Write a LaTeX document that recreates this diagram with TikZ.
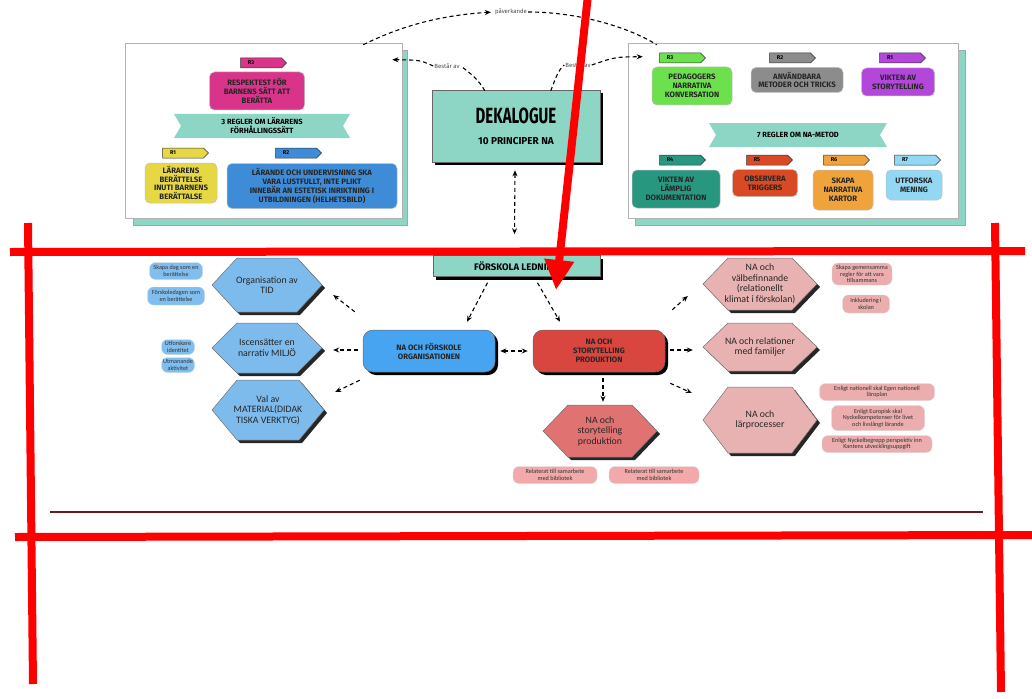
\documentclass[tikz,border=0pt]{standalone}
\usepackage{fontspec}
\setmainfont{Fira Sans}
\newfontfamily\calib{Carlito}
\usetikzlibrary{arrows.meta,calc,shapes.symbols,shadows}
\definecolor{tealA}{HTML}{8DD5C4}
\definecolor{cPink}{HTML}{D9348A}
\definecolor{cYel}{HTML}{E6D845}
\definecolor{cBlue}{HTML}{3E8CD8}
\definecolor{cGreen}{HTML}{6DE04E}
\definecolor{cGray}{HTML}{8C8C8C}
\definecolor{cPurp}{HTML}{B347DB}
\definecolor{cDTeal}{HTML}{27977F}
\definecolor{cRedO}{HTML}{D94A24}
\definecolor{cOrange}{HTML}{F1A33B}
\definecolor{cLBlue}{HTML}{93D8F2}
\definecolor{cOrg}{HTML}{46A4F0}
\definecolor{cRedBox}{HTML}{D9453F}
\definecolor{cSalmon}{HTML}{E07272}
\definecolor{cHexL}{HTML}{7DBBEC}
\definecolor{cPillL}{HTML}{7FBEEE}
\definecolor{cHexR}{HTML}{E8B2B2}
\definecolor{cPillR}{HTML}{EBADAD}
\definecolor{cPillB}{HTML}{F2A9A9}
\definecolor{dkred}{HTML}{6E1A1A}
\definecolor{markred}{HTML}{FF0000}

% hexagon: name, x, y, half width, half height, colour, text
\newcommand\hexa[7]{%
  \fill[black!85] (#2-#4+3,#3+3) -- (#2-#4+25+3,#3-#5+3) -- (#2+#4-25+3,#3-#5+3) -- (#2+#4+3,#3+3) -- (#2+#4-25+3,#3+#5+3) -- (#2-#4+25+3,#3+#5+3) -- cycle;
  \filldraw[fill=#6, draw=black!55, line width=0.5pt] (#2-#4,#3) -- (#2-#4+25,#3-#5) -- (#2+#4-25,#3-#5) -- (#2+#4,#3) -- (#2+#4-25,#3+#5) -- (#2-#4+25,#3+#5) -- cycle;
  \node[hextext, minimum width={2*#4}, minimum height={2*#5}] (#1) at (#2,#3) {#7};
}
% banner: name, x, y, half width, half height, text
\newcommand\bannerbox[6]{%
  \fill[tealA] (#2-#4,#3-#5) -- (#2+#4,#3-#5) -- (#2+#4-7,#3) -- (#2+#4,#3+#5) -- (#2-#4,#3+#5) -- (#2-#4+7,#3) -- cycle;
  \node[bantext] (#1) at (#2,#3) {#6};
}

\begin{document}
\begin{tikzpicture}[x=1pt,y=-1pt,
  frame/.style={draw=black!30, fill=white, line width=0.6pt, inner sep=0pt},
  rtag/.style={signal, signal to=east, minimum width=46, minimum height=10, inner sep=0.5pt, draw=black!80, line width=0.5pt, text=black, font=\bfseries\fontsize{5.5}{6}\selectfont},
  rbox/.style={rounded corners=5pt, draw=black!25, line width=0.5pt, align=center, inner sep=2pt, text=black!85, font=\bfseries\fontsize{7.8}{8.8}\selectfont},
  bantext/.style={align=center, inner sep=0pt, font=\bfseries\fontsize{7.5}{9}\selectfont},
  shbox/.style={draw=black!60, line width=0.5pt, drop shadow={shadow xshift=3pt, shadow yshift=-3pt, opacity=1, fill=black}},
  hextext/.style={align=center, inner sep=0pt, text=black!85, font=\calib\fontsize{9.8}{10.5}\selectfont},
  pill/.style={rounded corners=6pt, align=center, inner sep=1.5pt, text=black!80, font=\calib\fontsize{6.2}{6.6}\selectfont, draw=black!15, line width=0.3pt},
  dline/.style={dash pattern=on 4pt off 3pt, line width=1.1pt},
  da/.style={dline, -{Stealth[length=6pt,width=5pt]}},
  dda/.style={dline, {Stealth[length=6pt,width=5pt]}-{Stealth[length=6pt,width=5pt]}},
  lbl/.style={font=\fontsize{6}{7}\selectfont, text=black!70, inner sep=1pt},
  redmark/.style={markred, line width=8pt}
]
\useasboundingbox (0,0) rectangle (1032,698);

% ---------- top left frame ----------
\filldraw[fill=tealA, draw=black!35, line width=0.5pt] (133,50) rectangle (407,225);
\node[frame, minimum width=277, minimum height=175] (tl) at (263.5,130.5) {};
\node[rtag, fill=cPink] (t3) at (261,63) {R3\hspace*{20pt}};
\node[rbox, fill=cPink, minimum width=95, minimum height=38] (b3) at (257,91) {RESPEKTEST FÖR\\BARNENS SÄTT ATT\\BERÄTTA};
\bannerbox{ban1}{262}{126}{88}{12}{3 REGLER OM LÄRARENS\\FÖRHÅLLINGSSÄTT}
\node[rtag, fill=cYel] (t1) at (183,153) {R1\hspace*{20pt}};
\node[rbox, fill=cYel, minimum width=72, minimum height=40] (b1) at (181,183) {LÄRARENS\\BERÄTTELSE\\INUTI BARNENS\\BERÄTTALSE};
\node[rtag, fill=cBlue] (t2) at (296,153) {R2\hspace*{20pt}};
\node[rbox, fill=cBlue, minimum width=170, minimum height=45] (b2) at (312,186) {LÄRANDE OCH UNDERVISNING SKA\\VARA LUSTFULLT, INTE PLIKT\\INNEBÄR AN ESTETISK INRIKTNING I\\UTBILDNINGEN (HELHETSBILD)};

% ---------- top right frame ----------
\filldraw[fill=tealA, draw=black!35, line width=0.5pt] (635,50) rectangle (965,225);
\node[frame, minimum width=330, minimum height=175] (tr) at (793,130.5) {};
\node[rtag, fill=cGreen] (u3) at (680,58) {R3\hspace*{20pt}};
\node[rbox, fill=cGreen, minimum width=80, minimum height=38] (c3) at (692,86) {PEDAGOGERS\\NARRATIVA\\KONVERSATION};
\node[rtag, fill=cGray] (u2) at (790,58) {R2\hspace*{20pt}};
\node[rbox, fill=cGray, minimum width=92, minimum height=25] (c2) at (797,80) {ANVÄNDBARA\\METODER OCH TRICKS};
\node[rtag, fill=cPurp] (u1) at (900,58) {R1\hspace*{20pt}};
\node[rbox, fill=cPurp, minimum width=73, minimum height=28] (c1) at (898,82) {VIKTEN AV\\STORYTELLING};
\bannerbox{ban2}{798}{135}{89}{12}{7 REGLER OM NA-METOD}
\node[rtag, fill=cDTeal] (u4) at (680,160) {R4\hspace*{20pt}};
\node[rbox, fill=cDTeal, minimum width=88, minimum height=38] (c4) at (676,189) {VIKTEN AV\\LÄMPLIG\\DOKUMENTATION};
\node[rtag, fill=cRedO] (u5) at (767,160) {R5\hspace*{20pt}};
\node[rbox, fill=cRedO, minimum width=65, minimum height=27] (c5) at (765,183) {OBSERVERA\\TRIGGERS};
\node[rtag, fill=cOrange] (u6) at (844,160) {R6\hspace*{20pt}};
\node[rbox, fill=cOrange, minimum width=60, minimum height=40] (c6) at (843,190) {SKAPA\\NARRATIVA\\KARTOR};
\node[rtag, fill=cLBlue] (u7) at (915,160) {R7\hspace*{20pt}};
\node[rbox, fill=cLBlue, minimum width=56, minimum height=30] (c7) at (914,185) {UTFORSKA\\MENING};

% ---------- dekalogue ----------
\node[shbox, fill=tealA, minimum width=168, minimum height=72, align=center, inner sep=0pt] (dek) at (516,126)
  {\scalebox{0.68}[1]{\fontsize{22}{24}\selectfont\bfseries DEKALOGUE}\\[9pt]{\bfseries\fontsize{10}{12}\selectfont 10 PRINCIPER NA}};
\node[lbl] (pav) at (511,12) {påverkande};
\node[lbl] (bestL) at (447,66) {Består av};
\node[lbl] (bestR) at (578,65) {Består av};
\draw[da, shorten >=3pt] ($(tl.north east)+(-39,2)$) .. controls (405,24) and (445,15) .. (pav.west);
\draw[dline] (pav.east) .. controls (580,12) and (630,28) .. ($(tr.north west)+(29,2)$);
\draw[dline] ($(dek.north west)+(53,1)$) .. controls (479,80) and (470,73) .. (bestL.east);
\draw[da] (bestL.west) .. controls (420,60) .. ($(tl.north east)+(-10,17)$);
\draw[dline] ($(dek.north west)+(119,1)$) .. controls (555,80) and (558,70) .. (bestR.west);
\draw[da] (bestR.east) .. controls (615,57) .. ($(tr.north west)+(15,14)$);

% ---------- förskola ledning ----------
\node[shbox, fill=tealA, minimum width=167, minimum height=21, inner sep=0pt, font=\bfseries\fontsize{9.5}{11}\selectfont] (led) at (516.5,266) {FÖRSKOLA LEDNING};
\draw[dda] ($(dek.south)+(-1,8)$) -- ($(led.north)+(-2,-21)$);

\node[shbox, fill=cOrg, rounded corners=10pt, minimum width=132, minimum height=42, align=center, inner sep=0pt, text=black!85, font=\bfseries\fontsize{7.8}{9}\selectfont] (org) at (429,351) {NA OCH FÖRSKOLE\\ORGANISATIONEN};
\node[shbox, fill=cRedBox, rounded corners=10pt, minimum width=132, minimum height=42, align=center, inner sep=0pt, text=black!85, font=\bfseries\fontsize{7.8}{9}\selectfont] (prod) at (599,351) {NA OCH\\STORYTELLING\\PRODUKTION};
\draw[da] ($(led.south)+(-29,6)$) -- ($(org.north)+(38,-8)$);
\draw[da] ($(led.south)+(21,6)$) -- ($(prod.north)+(-39,-8)$);
\draw[dda] ($(org.east)+(5,0)$) -- ($(prod.west)+(-5,0)$);

% ---------- hexagons ----------
\hexa{hl1}{267}{285}{55}{27}{cHexL}{Organisation av\\TID}
\hexa{hl2}{267}{348}{55}{25}{cHexL}{Iscensätter en\\narrativ MILJÖ}
\hexa{hl3}{268}{410}{56}{30}{cHexL}{Val av\\MATERIAL(DIDAK\\TISKA VERKTYG)}
\hexa{hp}{600}{431}{57}{26}{cSalmon}{NA och\\storytelling\\produktion}
\hexa{hr1}{760}{284}{57}{26}{cHexR}{NA och\\välbefinnande\\(relationellt\\klimat i förskolan)}
\hexa{hr2}{760}{347}{57}{24}{cHexR}{NA och relationer\\med familjer}
\hexa{hr3}{760}{420}{57}{33}{cHexR}{NA och\\lärprocesser}

\draw[da] ($(org.north west)+(-8,-18)$) -- ($(hl1.east)+(11,10)$);
\draw[da] ($(org.west)+(-5,-1)$) -- ($(hl2.east)+(11,2)$);
\draw[da] ($(org.south west)+(-3,8)$) -- ($(hl3.east)+(11,-18)$);
\draw[da] ($(prod.south)+(4,6)$) -- ($(hp.north)+(3,-3)$);
\draw[da] ($(prod.north east)+(7,-20)$) -- ($(hr1.west)+(-15,12)$);
\draw[da] ($(prod.east)+(5,-1)$) -- ($(hr2.west)+(-10,3)$);
\draw[da] ($(prod.south east)+(5,11)$) -- ($(hr3.west)+(-11,-27)$);

% ---------- pills ----------
\node[pill, fill=cPillL, minimum width=53, minimum height=17] (pl1) at (176,271) {Skapa dag som en\\berättelse};
\node[pill, fill=cPillL, minimum width=57, minimum height=18] (pl2) at (176,296) {Förskoledagen som\\en berättelse};
\node[pill, fill=cPillL, minimum width=33, minimum height=15] (pl3) at (178,347) {Utforskare\\identitet};
\node[pill, fill=cPillL, minimum width=33, minimum height=15] (pl4) at (178,365) {Utmanande\\aktivitet};
\node[pill, fill=cPillR, minimum width=60, minimum height=22] (pr1) at (862,274) {Skapa gemensamma\\regler för att vara\\tillsammans};
\node[pill, fill=cPillR, minimum width=47, minimum height=18] (pr2) at (866,304) {Inkludering i\\skolan};
\node[pill, fill=cPillR, minimum width=115, minimum height=17] (pr3) at (877,392) {Enligt nationell skal Egen nationell\\läroplan};
\node[pill, fill=cPillR, minimum width=93, minimum height=25] (pr4) at (878,418) {Enligt Europisk skal\\Nyckelkompetenser för livet\\och livslångt lärande};
\node[pill, fill=cPillR, minimum width=110, minimum height=17] (pr5) at (877,444) {Enligt Nyckelbegrepp perspektiv inn\\Kantens utvecklingsuppgift};
\node[pill, fill=cPillB, minimum width=84, minimum height=17] (pb1) at (555,475) {Relaterat till samarbete\\med bibliotek};
\node[pill, fill=cPillB, minimum width=90, minimum height=17] (pb2) at (654,475) {Relaterat till samarbete\\med bibliotek};

% ---------- overlay marks ----------
\draw[dkred, line width=2pt] (50,512) -- (983,512);
\draw[redmark] (10,252) -- (1025,251);
\draw[redmark] (15,537) -- (1032,535);
\draw[redmark] (28,223) -- (33,684);
\draw[redmark] (995,223) -- (1001,692);
\draw[redmark, -{Triangle[length=30pt,width=28pt]}] (588,-5) -- (556,290);
\end{tikzpicture}
\end{document}
